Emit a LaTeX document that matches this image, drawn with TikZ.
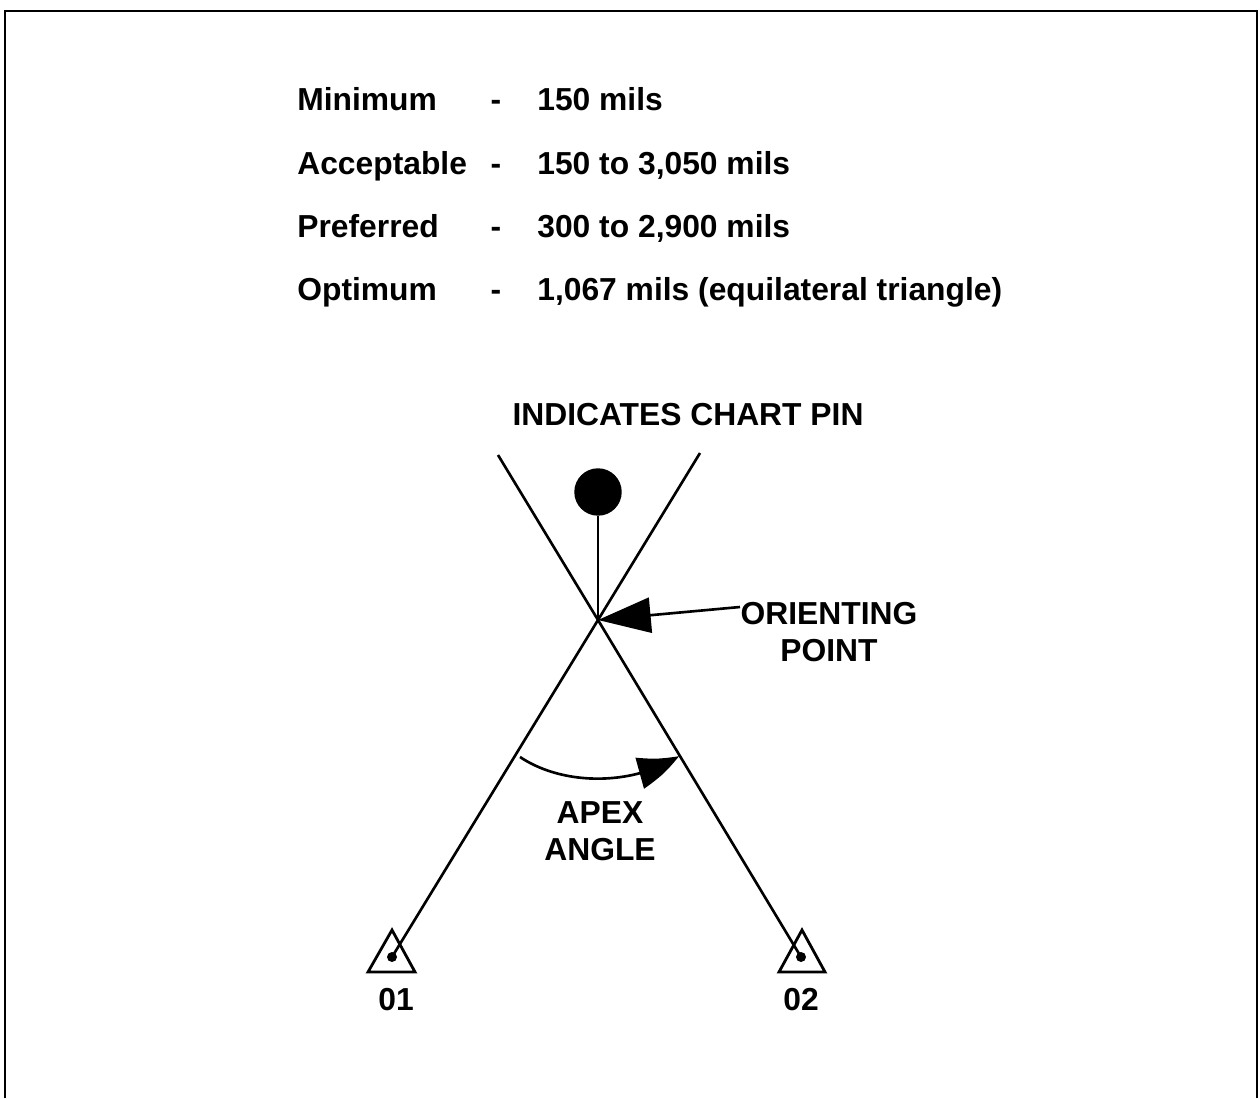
\documentclass[tikz,border=0pt]{standalone}
\usepackage{fontspec}
\setmainfont{Liberation Sans}
\usetikzlibrary{arrows.meta,bending}
\begin{document}
\begin{tikzpicture}[x=0.02cm,y=-0.02cm,
  lbl/.style={font=\fontsize{18.1}{21}\selectfont\bfseries, inner sep=0pt},
  ln/.style={line width=1.5pt},
  tri/.style={line width=1.6pt, line join=miter}]
\useasboundingbox (0,0) rectangle (1260,1098);
% frame
\draw[line width=1.4pt] (5,1098) -- (5,11) -- (1257,11) -- (1257,1098);
% table
\foreach \y/\a/\b [count=\i] in {111/Minimum/150 mils, 174/Acceptable/{150 to 3,050 mils}, 237/Preferred/{300 to 2,900 mils}, 300/Optimum/{1,067 mils (equilateral triangle)}}{
  \node[lbl, anchor=base west] (k\i) at (297,\y) {\a};
  \node[lbl, anchor=base] (d\i) at (496,\y) {-};
  \node[lbl, anchor=base west] (v\i) at (537,\y) {\b};
}
\node[lbl, anchor=base] (title) at (688,425) {INDICATES CHART PIN};
% geometry
\coordinate (op) at (598,620);
\coordinate (t1) at (498,455);
\coordinate (t2) at (700,453);
\coordinate (s1) at (392,957);
\coordinate (s2) at (801,957);
\draw[ln] (t1) -- (op) -- (s2);
\draw[ln] (t2) -- (op) -- (s1);
% stations
\draw[tri] (392,930) -- (415,972) -- (368,972) -- cycle;
\draw[tri] (802,930) -- (825,972) -- (779,972) -- cycle;
\fill (s1) circle (5);
\fill (s2) circle (5);
\node[lbl] (l01) at (396,1000) {01};
\node[lbl] (l02) at (801,1000) {02};
% chart pin
\node[circle, fill, inner sep=0pt, minimum size=27] (pin) at (598,492) {};
\draw[ln] (pin.south) -- (op);
% orienting point
\node[lbl, align=center] (orient) at (829,632) {ORIENTING\\POINT};
\draw[ln, -{Triangle[length=30, width=20]}] (740,607) -- (op);
% apex angle
\coordinate (a1) at (520,757);
\coordinate (a2) at (679,756);
\draw[ln, -{Triangle[length=24, width=18, bend]}] (a1) .. controls (565,787) and (635,785) .. (a2);
\node[lbl, align=center] (apex) at (600,831) {APEX\\ANGLE};
\end{tikzpicture}
\end{document}
